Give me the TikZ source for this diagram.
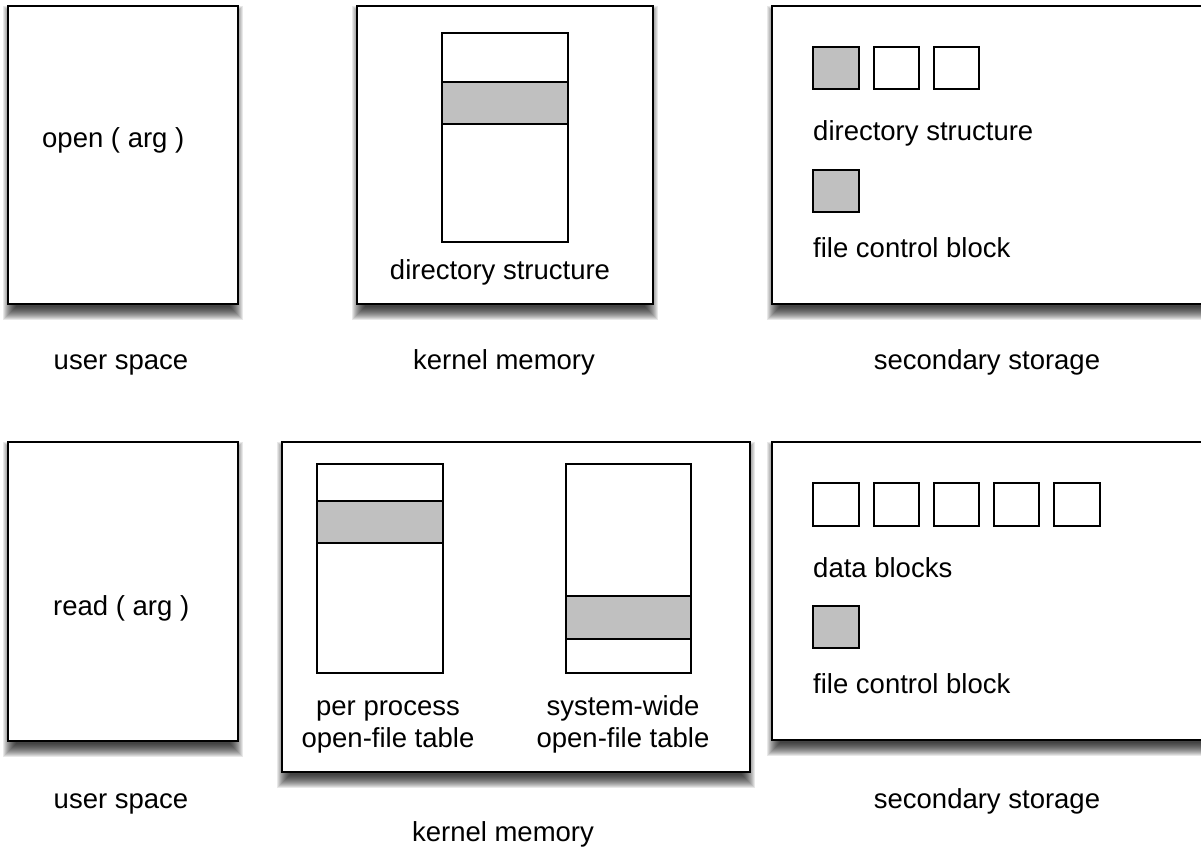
\documentclass[tikz,border=0pt]{standalone}
\usepackage{fontspec}
\setmainfont{Liberation Sans}
\usetikzlibrary{fit}
\definecolor{cellgray}{RGB}{192,192,192}
\newcommand\dropshade[4]{%
  \foreach \e in {8,7,6,5,4,3,2,1,0,-1,-2,-3,-4,-5}{%
    \fill[black, opacity=0.09] ({#1-\e+3},{#2-\e+8}) rectangle ({#3+\e-3},{#4+\e+8});
  }%
}
\begin{document}
\begin{tikzpicture}[x=1pt,y=-1pt,
  panel/.style={draw=black, line width=2pt, fill=white, inner sep=0pt},
  cell/.style={draw=black, line width=1.8pt, fill=white, inner sep=0pt},
  band/.style={draw=black, line width=1.8pt, fill=cellgray, inner sep=0pt},
  txt/.style={inner sep=0pt, font=\fontsize{27.5}{32}\selectfont}]
\useasboundingbox (0,0) rectangle (1201,846);
\clip (0,0) rectangle (1201,846);
% ---- shadows
\dropshade{8}{6}{238}{304}
\dropshade{357}{6}{653}{304}
\dropshade{772}{6}{1215}{304}
\dropshade{8}{442}{238}{741}
\dropshade{282}{442}{750}{772}
\dropshade{772}{442}{1215}{740}
% ---- top row panels
\node[panel, fit={(8,6)(238,304)}] (u1) {};
\node[panel, fit={(357,6)(653,304)}] (k1) {};
\node[panel, fit={(772,6)(1215,304)}] (s1) {};
% ---- bottom row panels
\node[panel, fit={(8,442)(238,741)}] (u2) {};
\node[panel, fit={(282,442)(750,772)}] (k2) {};
\node[panel, fit={(772,442)(1215,740)}] (s2) {};
% ---- top kernel table
\node[cell, fit={(442,33)(568,242)}] (dt) {};
\node[band, fit={(442,82)(568,124)}] (dtb) {};
% ---- per process table
\node[cell, fit={(317,464)(443,673)}] (pp) {};
\node[band, fit={(317,501)(443,543)}] (ppb) {};
% ---- system-wide table
\node[cell, fit={(566,464)(691,673)}] (sw) {};
\node[band, fit={(566,596)(691,639)}] (swb) {};
% ---- top storage squares
\node[band, fit={(813,47)(859,89)}] (ds1) {};
\node[cell, fit={(874,47)(919,89)}] (ds2) {};
\node[cell, fit={(934,47)(979,89)}] (ds3) {};
\node[band, fit={(813,170)(859,212)}] (fcb1) {};
% ---- bottom storage squares
\node[cell, fit={(813,483)(859,526)}] (db1) {};
\node[cell, fit={(874,483)(919,526)}] (db2) {};
\node[cell, fit={(934,483)(979,526)}] (db3) {};
\node[cell, fit={(994,483)(1039,526)}] (db4) {};
\node[cell, fit={(1054,483)(1100,526)}] (db5) {};
\node[band, fit={(813,606)(859,648)}] (fcb2) {};
% ---- texts
\node[txt, anchor=base west] (t1) at (42,147) {open ( arg )};
\node[txt, anchor=base west] (t2) at (53,615) {read ( arg )};
\node[txt, anchor=base] (t3) at (500,279) {directory structure};
\node[txt, anchor=base west] (t4) at (813,140) {directory structure};
\node[txt, anchor=base west] (t5) at (813,257) {file control block};
\node[txt, anchor=base west] (t6) at (813,577) {data blocks};
\node[txt, anchor=base west] (t7) at (813,693) {file control block};
\node[txt, anchor=base] (t8) at (388,715) {per process};
\node[txt, anchor=base] (t9) at (388,747) {open-file table};
\node[txt, anchor=base] (t10) at (623,715) {system-wide};
\node[txt, anchor=base] (t11) at (623,747) {open-file table};
% ---- labels
\node[txt, anchor=base] (l1) at (121,369) {user space};
\node[txt, anchor=base] (l2) at (504,369) {kernel memory};
\node[txt, anchor=base] (l3) at (987,369) {secondary storage};
\node[txt, anchor=base] (l4) at (121,808) {user space};
\node[txt, anchor=base] (l5) at (503,841) {kernel memory};
\node[txt, anchor=base] (l6) at (987,808) {secondary storage};
\end{tikzpicture}
\end{document}
